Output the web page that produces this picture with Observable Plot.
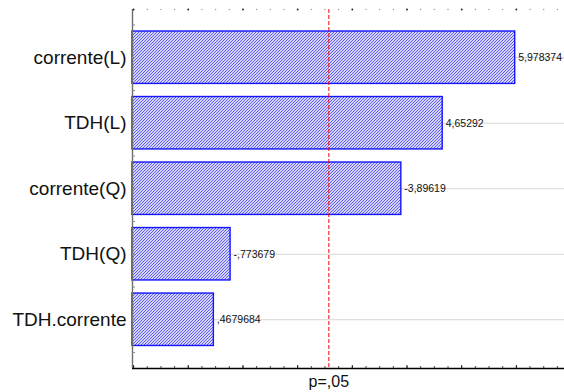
<!DOCTYPE html>
<html>
<head>
<meta charset="utf-8">
<script src="https://cdn.jsdelivr.net/npm/d3@7"></script>
<script src="https://cdn.jsdelivr.net/npm/@observablehq/plot@0.6"></script>
<style>
  html, body { margin: 0; padding: 0; background: #fff; }
  svg { display: block; }
</style>
</head>
<body>
<div id="chart"></div>
<script>
// ---- data ----
const effects = ["corrente(L)", "TDH(L)", "corrente(Q)", "TDH(Q)", "TDH.corrente"];
const effectValues = [5.978374, 4.65292, -3.89619, -0.773679, 0.4679684];
const valueLabels = ["5,978374", "4,65292", "-3,89619", "-,773679", ",4679684"];
const pCritical = 2.5706;
const pLabel = "p=,05";

// axis setup
const xMin = -1.02, xMax = 6.88;
const yTop = 0.264, yBottom = 5.744;
const xTicks = d3.range(-1, 6.76, 0.25);
const xMajor = d3.range(-1, 7, 1);
const yTicks = d3.range(0.5, 5.51, 0.5);

const data = effects.map((name, i) => ({
  name, rank: i + 1, value: effectValues[i], label: valueLabels[i], size: Math.abs(effectValues[i])
}));

const plot = Plot.plot({
  width: 564,
  height: 392,
  marginLeft: 132,
  marginRight: 0,
  marginTop: 9,
  marginBottom: 24,
  style: { fontFamily: "'Liberation Sans', Arial, sans-serif", background: "#fff", color: "#000", overflow: "visible" },
  x: { domain: [xMin, xMax], axis: null, label: null },
  y: { domain: [yBottom, yTop], axis: null, label: null },
  marks: [
    // gridlines at bar centers
    Plot.ruleY(data, { y: "rank", stroke: "#d6d6d6", strokeWidth: 1.2 }),
    // bars
    Plot.rect(data, {
      x1: xMin, x2: "size",
      y1: d => d.rank - 0.4, y2: d => d.rank + 0.4,
      fill: "url(#hatch)", stroke: "#1414ff", strokeWidth: 1.4
    }),
    // significance line
    Plot.ruleX([pCritical], { stroke: "#ff0000", strokeWidth: 1, strokeDasharray: "4,2" }),
    // value labels
    Plot.text(data, { x: "size", y: "rank", text: "label", textAnchor: "start", dx: 3, fontSize: 10.5, fill: "#111" }),
    // left axis line
    Plot.ruleX([xMin], { stroke: "#6e6e6e", strokeWidth: 1.4 }),
    // bottom axis line
    Plot.ruleY([yBottom], { stroke: "#000", strokeWidth: 1.3 }),
    // y category labels
    Plot.axisY([1, 2, 3, 4, 5], { anchor: "left", label: null, tickSize: 0, tickPadding: 6, tickFormat: i => effects[i - 1], fontSize: 19, fill: "#111" }),
    // y inward ticks
    Plot.axisY(yTicks, { anchor: "left", label: null, tickSize: -3, tickFormat: () => "", stroke: "#888" }),
    // bottom inward ticks
    Plot.axisX(xTicks, { anchor: "bottom", label: null, tickSize: -2, tickFormat: () => "", stroke: "#444" }),
    Plot.axisX(xMajor, { anchor: "bottom", label: null, tickSize: -3, tickFormat: () => "", stroke: "#222" }),
    // top tick dots
    Plot.dot(xTicks, { x: d => d, frameAnchor: "top", r: 0.7, fill: "#999", stroke: null }),
    Plot.dot(xMajor, { x: d => d, frameAnchor: "top", r: 0.9, fill: "#222", stroke: null }),
    // p label
    Plot.text([pLabel], { x: pCritical, frameAnchor: "bottom", lineAnchor: "top", dy: 7, fontSize: 16, fill: "#111", text: d => d })
  ]
});

// hatch pattern for bars
const defs = d3.select(plot).insert("defs", ":first-child");
const pat = defs.append("pattern")
  .attr("id", "hatch")
  .attr("patternUnits", "userSpaceOnUse")
  .attr("width", 3).attr("height", 3);
pat.append("rect").attr("width", 3).attr("height", 3).attr("fill", "#d4d4fb");
pat.append("path").attr("d", "M-1,1 L1,-1 M0,3 L3,0 M2,4 L4,2")
  .attr("stroke", "#6060f2").attr("stroke-width", 1);

document.getElementById("chart").appendChild(plot);
</script>
</body>
</html>
